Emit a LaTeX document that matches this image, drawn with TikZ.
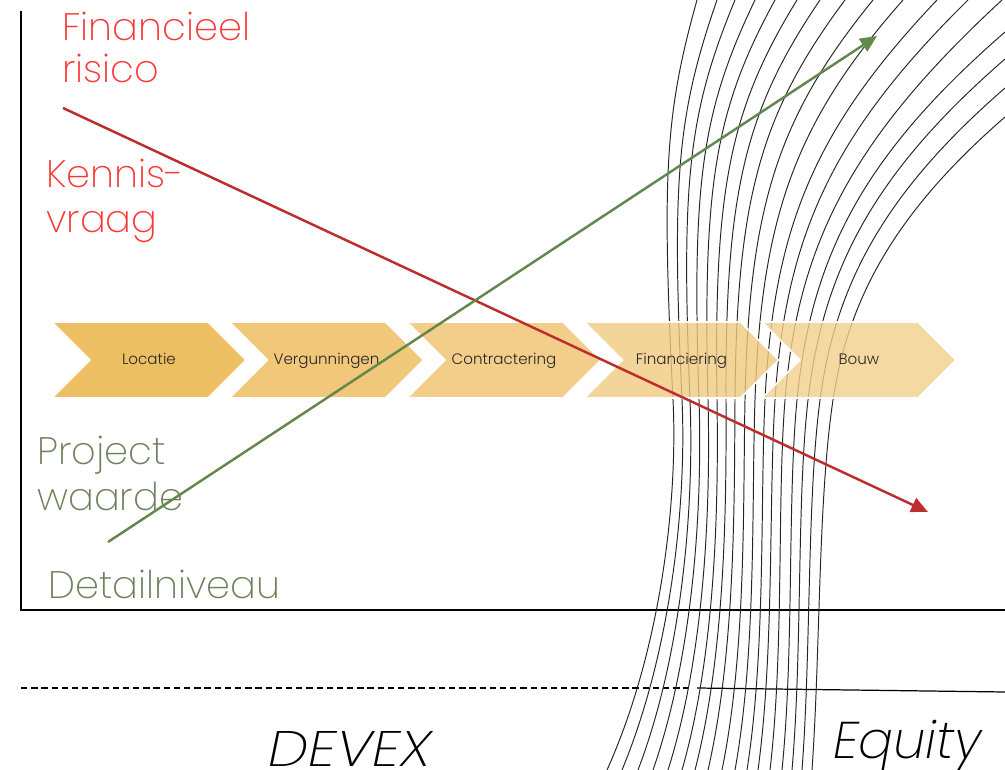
\documentclass[tikz,border=0pt]{standalone}
\usepackage{fontspec}
\setmainfont{Poppins}[UprightFont=*-Light, ItalicFont=*-LightItalic]
\newfontfamily\thinfont{Poppins}[UprightFont=*-ExtraLight, ItalicFont=*-ExtraLightItalic]
\usetikzlibrary{arrows.meta}
\definecolor{redtxt}{RGB}{250,55,55}
\definecolor{greentxt}{RGB}{110,128,92}
\definecolor{redline}{RGB}{190,45,45}
\definecolor{greenline}{RGB}{100,135,75}
\definecolor{cA}{RGB}{233,175,60}
\definecolor{cB}{RGB}{238,185,88}
\definecolor{cC}{RGB}{239,194,109}
\definecolor{cD}{RGB}{240,201,128}
\definecolor{cE}{RGB}{243,208,140}
\tikzset{
  bundle/.style={line width=0.55pt, black!85},
  chev/.style={fill opacity=0.8, draw=white, line width=1pt},
  chevtxt/.style={font=\fontsize{8.6}{10}\selectfont, text=black!85, inner sep=0, anchor=base},
  biglbl/.style={font=\thinfont\fontsize{21.8}{26}\selectfont, inner sep=0, anchor=base west, align=left},
  axis/.style={line width=0.8pt, black},
  arr/.style={line width=1.4pt, -{Triangle[length=9.5pt, width=8.5pt]}},
}
\begin{document}
\begin{tikzpicture}[x=0.02cm, y=-0.02cm]
\useasboundingbox (0,0) rectangle (1005,770);
% axes
\draw[axis] (21,11) -- (21,610) -- (1005,610);
\draw[line width=0.6pt, dash pattern=on 3.6pt off 2.2pt] (21,688) -- (688,688);
\draw[line width=0.7pt] (697,688) -- (1005,692);
% bundle of curves
\foreach \xb/\xm/\xe/\ye [count=\j from 0] in {
  607/673/697/0, 622/682/717/0, 638/690/735/0, 653/699/755/0,
  668/708/775/0, 682/717/797/0, 695/726/820/0, 708/735/845/0,
  722/745/873/0, 735/755/903/0, 747/765/937/0, 758/775/968/0,
  770/785/1002/0, 782/797/1005/32, 792/808/1005/59, 802/820/1005/88,
  812/833/1005/117}{
  \pgfmathsetmacro\t{\j/16}
  \pgfmathsetmacro\sb{0.07+0.38*(1-\t)*sqrt(1-\t)}
  \pgfmathsetmacro\sm{-0.05+0.2*\t*sqrt(\t)}
  \pgfmathsetmacro\se{min(0.28+1.07*\t,1.15)}
  \pgfmathsetmacro\ff{0.85-0.15*\t}
  \pgfmathsetmacro\Y{(\xe+\se*\ye-\xm-400*\sm)/(\se-\sm)}
  \pgfmathsetmacro\X{\xm+\sm*(400-\Y)}
  \pgfmathsetmacro\ax{\xb+120*\sb}
  \pgfmathsetmacro\bx{\xm-100*\sm}
  \pgfmathsetmacro\cx{\xm+\ff*(\X-\xm)}
  \pgfmathsetmacro\cy{400+\ff*(\Y-400)}
  \pgfmathsetmacro\dx{\xe+\ff*(\X-\xe)}
  \pgfmathsetmacro\dy{\ye+\ff*(\Y-\ye)}
  \draw[bundle] (\xb,770) .. controls (\ax,650) and (\bx,500) .. (\xm,400)
     .. controls (\cx,\cy) and (\dx,\dy) .. (\xe,\ye);
}
% chevrons
\foreach \L/\c/\t/\n in {52/cA/Locatie/s1, 229.5/cB/Vergunningen/s2, 407/cC/Contractering/s3, 584.5/cD/Financiering/s4, 762/cE/Bouw/s5}{
  \filldraw[chev, fill=\c] (\L,322) -- ++(156,0) -- ++(38,38) -- ++(-38,38) -- ++(-156,0) -- ++(38,-38) -- cycle;
  \node[chevtxt] (\n) at (\L+97,365) {\t};
}
% labels
\node[biglbl, text=redtxt, font=\thinfont\fontsize{21.8}{24.4}\selectfont] (fin) at (62,83) {Financieel\\risico};
\node[biglbl, text=redtxt] (ken) at (46,233) {Kennis-\\vraag};
\node[biglbl, text=greentxt] (pro) at (37,510) {Project\\waarde};
\node[biglbl, text=greentxt] (det) at (48,598) {Detailniveau};
\node[font=\thinfont\fontsize{28.4}{32}\selectfont\itshape, inner sep=0, anchor=base west, xscale=1.14] (devex) at (268,766) {DEVEX};
\node[font=\thinfont\fontsize{29.4}{32}\selectfont\itshape, inner sep=0, anchor=base west] (eq) at (833,758) {Equity};
% arrows
\coordinate (rs) at (63,108);
\coordinate (re) at (928,512);
\coordinate (gs) at (108,542);
\coordinate (ge) at (877,36);
\draw[arr, redline] (rs) -- (re);
\draw[arr, greenline] (gs) -- (ge);
\end{tikzpicture}
\end{document}
